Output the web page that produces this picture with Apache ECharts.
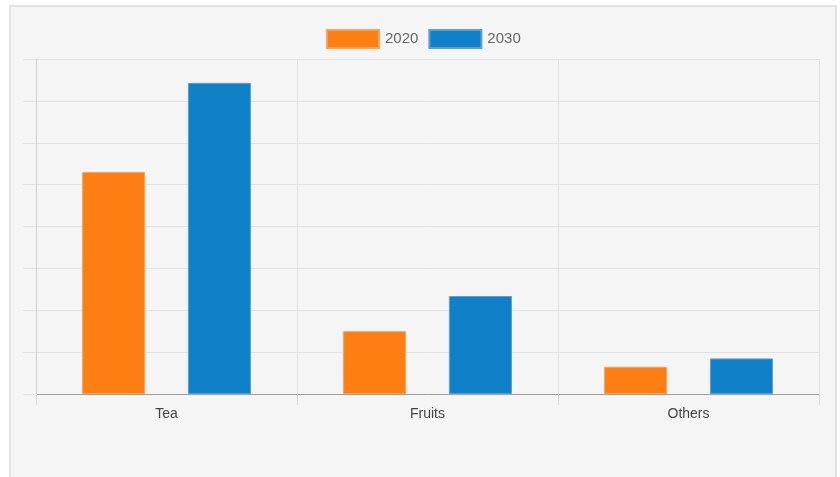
<!DOCTYPE html>
<html>
<head>
<meta charset="utf-8">
<script src="https://cdn.jsdelivr.net/npm/echarts@6/dist/echarts.min.js"></script>
<style>
html,body{margin:0;padding:0;background:#fff;}
#c{width:840px;height:477px;}
</style>
</head>
<body>
<div id="c"></div>
<script>
const categories = ['Tea', 'Fruits', 'Others'];
const seriesNames = ['2020', '2030'];
const values2020 = [53, 15, 6.5];
const values2030 = [74.3, 23.4, 8.5];

const chart = echarts.init(document.getElementById('c'), null, {renderer: 'canvas'});
const font = '"Liberation Sans", Arial, Helvetica, sans-serif';
chart.setOption({
  animation: false,
  backgroundColor: '#ffffff',
  graphic: [{
    type: 'rect', z: -10, silent: true,
    shape: {x: 10, y: 6, width: 826, height: 480},
    style: {fill: '#f5f5f5', stroke: '#e3e3e3', lineWidth: 2}
  }],
  legend: {
    top: 29, left: 326, padding: 0,
    icon: 'rect',
    itemWidth: 52, itemHeight: 18, itemGap: 10,
    textStyle: {color: '#666', fontSize: 15, fontFamily: font, padding: [0, 0, 0, 1]},
    data: seriesNames
  },
  grid: {left: 36, right: 21, top: 59, bottom: 83, containLabel: false},
  xAxis: {
    type: 'category',
    data: categories,
    boundaryGap: true,
    axisLine: {show: true, lineStyle: {color: '#9e9e9e', width: 1}},
    axisTick: {show: true, length: 11, lineStyle: {color: '#dcdcdc'}},
    axisLabel: {color: '#444', fontSize: 14, fontFamily: font, margin: 13},
    splitLine: {show: true, lineStyle: {color: '#e2e2e2', width: 1}}
  },
  yAxis: {
    type: 'value', min: 0, max: 80, interval: 10,
    axisLine: {show: true, lineStyle: {color: '#d0d0d0'}},
    axisTick: {show: true, length: 13, lineStyle: {color: '#e2e2e2'}},
    axisLabel: {show: false},
    splitLine: {show: true, lineStyle: {color: '#e2e2e2', width: 1}}
  },
  series: [
    {
      name: seriesNames[0], type: 'bar', data: values2020,
      barWidth: 63, barGap: '68%',
      itemStyle: {color: '#fd7f13', borderColor: '#f8a15a', borderWidth: 1}
    },
    {
      name: seriesNames[1], type: 'bar', data: values2030,
      barWidth: 63,
      itemStyle: {color: '#1080c9', borderColor: '#5d9fcf', borderWidth: 1}
    }
  ]
});
</script>
</body>
</html>
